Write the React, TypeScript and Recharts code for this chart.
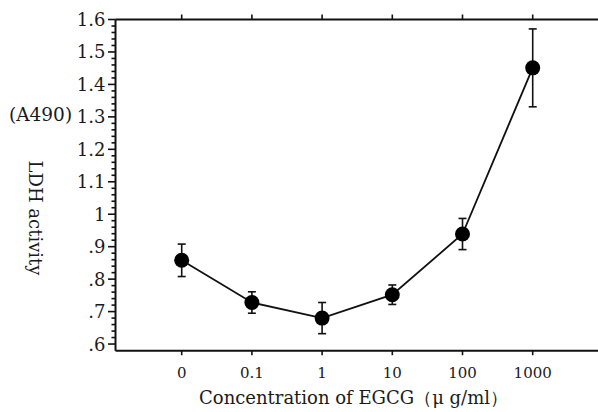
import React from 'react';
import { ComposedChart, Line, XAxis, YAxis, ErrorBar } from 'recharts';

const categories = ['0', '0.1', '1', '10', '100', '1000'];
const ldhMean = [0.858, 0.728, 0.68, 0.752, 0.939, 1.451];
const ldhError = [0.05, 0.033, 0.048, 0.03, 0.048, 0.12];
const yMajorTicks = [0.6, 0.7, 0.8, 0.9, 1.0, 1.1, 1.2, 1.3, 1.4, 1.5, 1.6];
const yMajorLabels = ['.6', '.7', '.8', '.9', '1', '1.1', '1.2', '1.3', '1.4', '1.5', '1.6'];
const xTickIndex = [0, 1, 2, 3, 4, 5];

const data = categories.map((c, i) => ({ idx: i, label: c, mean: ldhMean[i], err: ldhError[i] }));

const yAllTicks: number[] = [];
yMajorTicks.forEach((t, i) => {
  yAllTicks.push(t);
  if (i < yMajorTicks.length - 1) {
    for (let k = 1; k < 5; k++) yAllTicks.push(Math.round((t + k * 0.02) * 1000) / 1000);
  }
});

const FONT = '"DejaVu Serif", "Liberation Serif", serif';
const AXIS_X = 115.5;
const X_DOMAIN: [number, number] = [-0.943, 6.101];

const YTick = (props: any) => {
  const y = Number(props.y);
  const v = props.payload.value;
  const mi = yMajorTicks.findIndex((t) => Math.abs(t - v) < 1e-6);
  const len = mi >= 0 ? 7.5 : 4;
  return (
    <g>
      <line x1={AXIS_X - len} x2={AXIS_X} y1={y} y2={y} stroke="#111" strokeWidth={1.6} />
      {mi >= 0 ? (
        <text x={AXIS_X - 10} y={y} dy="0.36em" textAnchor="end" fontFamily={FONT} fontSize={18} fill="#1a1a1a">
          {yMajorLabels[mi]}
        </text>
      ) : null}
    </g>
  );
};

const XTick = (props: any) => {
  const x = Number(props.x);
  const y = Number(props.y);
  return (
    <text x={x} y={y} dy={22.5} textAnchor="middle" fontFamily={FONT} fontSize={15} fill="#1a1a1a">
      {categories[props.payload.value]}
    </text>
  );
};

const EmptyTick = () => <g />;

export default function App() {
  return (
    <div style={{ position: 'absolute', left: 0, top: 0, width: 598, height: 412, overflow: 'hidden', background: '#fff' }}>
      <svg width={598} height={412} style={{ position: 'absolute', left: 0, top: 0 }}>
        <text x={9} y={121} fontFamily={FONT} fontSize={18.5} fill="#1a1a1a">(A490)</text>
        <text
          x={35}
          y={218}
          transform="rotate(90 35 218)"
          textAnchor="middle"
          dy="0.35em"
          fontFamily={FONT}
          fontSize={18}
          fill="#1a1a1a"
        >
          LDH activity
        </text>
        <text x={353.5} y={404} textAnchor="middle" fontFamily={FONT} fontSize={18} fill="#1a1a1a">
          Concentration of EGCG（μ g/ml）
        </text>
      </svg>
      <div style={{ position: 'absolute', left: 0, top: 0 }}>
        <ComposedChart
          width={620}
          height={412}
          data={data}
          margin={{ top: 9.5, right: 10, bottom: 21.3, left: 55.5 }}
        >
          <XAxis
            xAxisId="bottom"
            dataKey="idx"
            type="number"
            domain={X_DOMAIN}
            ticks={xTickIndex}
            allowDataOverflow
            height={40}
            axisLine={{ stroke: '#111', strokeWidth: 2 }}
            tickLine={{ stroke: '#111', strokeWidth: 1.6 }}
            tickSize={4.5}
            tickMargin={0}
            tick={<XTick />}
            interval={0}
          />
          <XAxis
            xAxisId="top"
            orientation="top"
            dataKey="idx"
            type="number"
            domain={X_DOMAIN}
            ticks={xTickIndex}
            allowDataOverflow
            height={10}
            axisLine={{ stroke: '#111', strokeWidth: 2 }}
            tickLine={{ stroke: '#111', strokeWidth: 1.6 }}
            tickSize={5}
            tickMargin={0}
            tick={<EmptyTick />}
            interval={0}
          />
          <YAxis
            type="number"
            domain={[0.5795, 1.6]}
            ticks={yAllTicks}
            allowDataOverflow
            width={60}
            axisLine={{ stroke: '#111', strokeWidth: 2 }}
            tickLine={false}
            tickSize={0}
            tickMargin={0}
            tick={<YTick />}
            interval={0}
          />
          <Line
            xAxisId="bottom"
            type="linear"
            dataKey="mean"
            stroke="#111"
            strokeWidth={1.8}
            dot={{ r: 7.5, fill: '#000', stroke: '#000', strokeWidth: 0 }}
            activeDot={false}
            isAnimationActive={false}
          >
            <ErrorBar dataKey="err" direction="y" width={4} stroke="#111" strokeWidth={1.6} isAnimationActive={false} />
          </Line>
        </ComposedChart>
      </div>
    </div>
  );
}
